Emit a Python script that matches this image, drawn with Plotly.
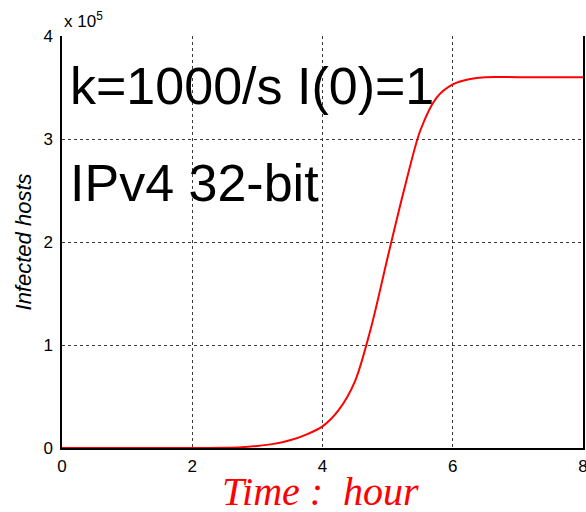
import plotly.graph_objects as go

# Worm propagation: infected hosts over time (units of 1e5 hosts)
hours = [0, 0.5, 1, 1.5, 2, 2.5, 2.75, 3, 3.25, 3.5, 3.75, 4, 4.25, 4.5,
         4.75, 5, 5.25, 5.5, 5.75, 6, 6.25, 6.5, 7, 7.5, 8]
infected_e5 = [0, 0, 0, 0, 0, 0.003, 0.008, 0.02, 0.04, 0.075, 0.13, 0.21, 0.37,
               0.65, 1.18, 1.85, 2.5, 3.08, 3.4, 3.53, 3.58, 3.6, 3.6, 3.6, 3.6]
infected = [v * 1e5 for v in infected_e5]

x_ticks = [0, 2, 4, 6, 8]
y_ticks = [0, 1e5, 2e5, 3e5, 4e5]
y_tick_text = ["0", "1", "2", "3", "4"]

grid = dict(showgrid=True, gridcolor="#3a3a3a", gridwidth=1, griddash="3px,3px")

fig = go.Figure()
fig.add_trace(go.Scatter(
    x=hours, y=infected, mode="lines",
    line=dict(color="#ff0000", width=2, shape="spline", smoothing=0.8),
    cliponaxis=False, showlegend=False,
))
# empty trace that activates the right-hand frame axis
fig.add_trace(go.Scatter(x=[], y=[], yaxis="y2", showlegend=False))

fig.update_layout(
    width=586, height=512,
    margin=dict(l=62, r=3, t=36, b=64, autoexpand=False),
    paper_bgcolor="white", plot_bgcolor="white",
    font=dict(family="Arial, Liberation Sans, sans-serif", color="black", size=17),
    xaxis=dict(range=[0, 8], tickvals=x_ticks, ticks="", ticklabelstandoff=2,
               ticklabeloverflow="allow", automargin=False,
               showline=True, linecolor="black", linewidth=1.5, zeroline=False,
               layer="below traces", tickfont=dict(size=17), **grid),
    yaxis=dict(range=[0, 4e5], tickvals=y_ticks, ticktext=y_tick_text, ticks="",
               ticklabelstandoff=4, automargin=False,
               showline=True, linecolor="black", linewidth=1.5,
               zeroline=False, layer="below traces", tickfont=dict(size=17),
               title=dict(text="<i>Infected hosts</i>", font=dict(size=22), standoff=6),
               **grid),
    yaxis2=dict(range=[0, 4e5], overlaying="y", side="right", showline=True,
                automargin=False,
                linecolor="black", linewidth=1.5, showticklabels=False,
                showgrid=False, zeroline=False, ticks=""),
)

annotations = [
    dict(text="x 10<sup>5</sup>", x=0, y=1.038, xanchor="left", yanchor="middle",
         font=dict(size=17)),
    dict(text="k=1000/s I(0)=1", x=0.012, y=0.879, xanchor="left", yanchor="middle",
         font=dict(size=52)),
    dict(text="IPv4 32-bit", x=0.012, y=0.643, xanchor="left", yanchor="middle",
         font=dict(size=52)),
    dict(text="Time :  hour", x=0.497, y=-0.105, xanchor="center", yanchor="middle",
         font=dict(size=40, color="#ff0000",
                   family="Liberation Serif, Times New Roman, serif", style="italic")),
]
for a in annotations:
    fig.add_annotation(xref="paper", yref="paper", showarrow=False, **a)

fig.write_html("out.html")
